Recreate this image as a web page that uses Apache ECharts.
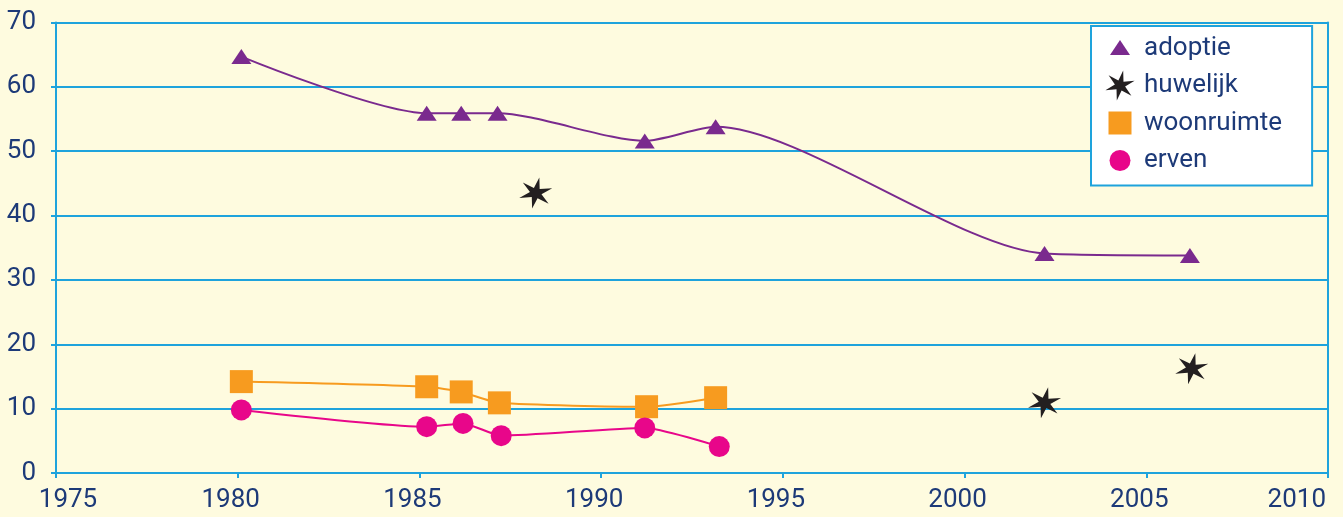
<!DOCTYPE html>
<html>
<head>
<meta charset="utf-8">
<style>
  html, body { margin: 0; padding: 0; background: #fefbdf; }
  #chart { width: 1343px; height: 517px; }
</style>
<script src="https://cdn.jsdelivr.net/npm/echarts@6/dist/echarts.min.js"></script>
</head>
<body>
<div id="chart"></div>
<script>
// ---- data ----
const seriesNames = ['adoptie', 'huwelijk', 'woonruimte', 'erven'];

const adoptieYears = [1980.1, 1985.2, 1986.15, 1987.15, 1991.2, 1993.15, 2002.2, 2006.2];
const adoptieValues = [64.7, 55.9, 55.9, 55.9, 51.6, 53.8, 34.1, 33.8];

const huwelijkYears = [1988.2, 2002.2, 2006.25];
const huwelijkValues = [43.5, 10.9, 16.2];

const woonruimteYears = [1980.1, 1985.2, 1986.15, 1987.2, 1991.25, 1993.15];
const woonruimteValues = [14.2, 13.4, 12.6, 10.9, 10.3, 11.7];

const ervenYears = [1980.1, 1985.2, 1986.2, 1987.25, 1991.2, 1993.25];
const ervenValues = [9.8, 7.2, 7.7, 5.8, 7.0, 4.1];

const xTicks = { min: 1975, max: 2010, interval: 5 };
const yTicks = { min: 0, max: 70, interval: 10 };

// ---- helpers ----
function pairs(xs, ys) { return xs.map((x, i) => [x, ys[i]]); }

function starPath() {
  const pts = [];
  for (let i = 0; i < 12; i++) {
    const a = (18 + i * 30) * Math.PI / 180;
    const r = i % 2 === 0 ? 50 : 17;
    pts.push([(50 + r * Math.cos(a)).toFixed(2), (50 - r * Math.sin(a)).toFixed(2)]);
  }
  return 'path://M' + pts.map(p => p.join(',')).join('L') + 'Z';
}
const STAR = starPath();

const navy = '#1d3a78';
const blue = '#1ea3dc';
const FONT = 'Roboto';
const colors = { adoptie: '#7a2a8e', huwelijk: '#231f20', woonruimte: '#f79b1f', erven: '#e8068a' };

const chart = echarts.init(document.getElementById('chart'), null, { renderer: 'canvas' });

chart.setOption({
  backgroundColor: '#fefbdf',
  animation: false,
  grid: { left: 56, right: 15, top: 22.5, bottom: 44, containLabel: false },
  xAxis: {
    type: 'value',
    min: xTicks.min, max: xTicks.max, interval: xTicks.interval,
    axisLine: { show: true, lineStyle: { color: blue, width: 2 } },
    axisTick: { show: true, length: 5, lineStyle: { color: blue, width: 2 } },
    splitLine: { show: false },
    axisLabel: {
      color: navy, fontFamily: FONT, fontSize: 26, margin: 14,
      alignMaxLabel: 'right',
      formatter: v => v === xTicks.min ? '{f|' + v + '}' : (v === xTicks.max ? '{l|' + v + '}' : '{n|' + v + '}'),
      rich: {
        f: { color: navy, fontFamily: FONT, fontSize: 26, padding: [0, 0, 0, 24] },
        n: { color: navy, fontFamily: FONT, fontSize: 26, padding: [0, 14, 0, 0] },
        l: { color: navy, fontFamily: FONT, fontSize: 26, padding: [0, 2, 0, 0] }
      }
    }
  },
  yAxis: [{
    type: 'value',
    min: yTicks.min, max: yTicks.max, interval: yTicks.interval,
    axisLine: { show: true, lineStyle: { color: blue, width: 2 } },
    axisTick: { show: true, length: 5, lineStyle: { color: blue, width: 2 } },
    splitLine: { show: true, lineStyle: { color: blue, width: 2 } },
    axisLabel: { color: navy, fontFamily: FONT, fontSize: 26, margin: 20 }
  }, {
    type: 'value', position: 'right',
    min: yTicks.min, max: yTicks.max, interval: yTicks.interval,
    axisLine: { show: true, lineStyle: { color: blue, width: 2 } },
    axisTick: { show: false }, axisLabel: { show: false }, splitLine: { show: false }
  }],
  legend: {
    orient: 'vertical',
    left: 1091, top: 26,
    backgroundColor: '#ffffff',
    borderColor: blue, borderWidth: 2,
    padding: [7, 30, 10, 14],
    itemWidth: 30, itemHeight: 30, itemGap: 7.5,
    textStyle: { color: navy, fontFamily: FONT, fontSize: 26, padding: [0, 0, 0, 4] },
    data: [
      { name: 'adoptie', icon: 'path://M0,0M5,22L25,22L15,7ZM30,30' },
      { name: 'huwelijk', icon: STAR },
      { name: 'woonruimte', icon: 'path://M0,0M3.5,3.5L26.5,3.5L26.5,26.5L3.5,26.5ZM30,30' },
      { name: 'erven', icon: 'path://M0,0M4.5,15A10.5,10.5,0,1,1,25.5,15A10.5,10.5,0,1,1,4.5,15ZM30,30' }
    ]
  },
  series: [
    {
      name: 'adoptie', type: 'line', smooth: 0.25,
      data: pairs(adoptieYears, adoptieValues),
      symbol: 'triangle', symbolSize: [20, 15],
      itemStyle: { color: colors.adoptie },
      lineStyle: { color: colors.adoptie, width: 2 },
      z: 3
    },
    {
      name: 'huwelijk', type: 'line',
      data: pairs(huwelijkYears, huwelijkValues),
      symbol: STAR, symbolSize: [33, 31],
      itemStyle: { color: colors.huwelijk },
      lineStyle: { width: 0, opacity: 0 },
      z: 3
    },
    {
      name: 'woonruimte', type: 'line', smooth: 0.2,
      data: pairs(woonruimteYears, woonruimteValues),
      symbol: 'rect', symbolSize: 23,
      itemStyle: { color: colors.woonruimte },
      lineStyle: { color: colors.woonruimte, width: 2 },
      z: 3
    },
    {
      name: 'erven', type: 'line', smooth: 0.2,
      data: pairs(ervenYears, ervenValues),
      symbol: 'circle', symbolSize: 21,
      itemStyle: { color: colors.erven },
      lineStyle: { color: colors.erven, width: 2 },
      z: 3
    }
  ]
});
</script>
</body>
</html>
